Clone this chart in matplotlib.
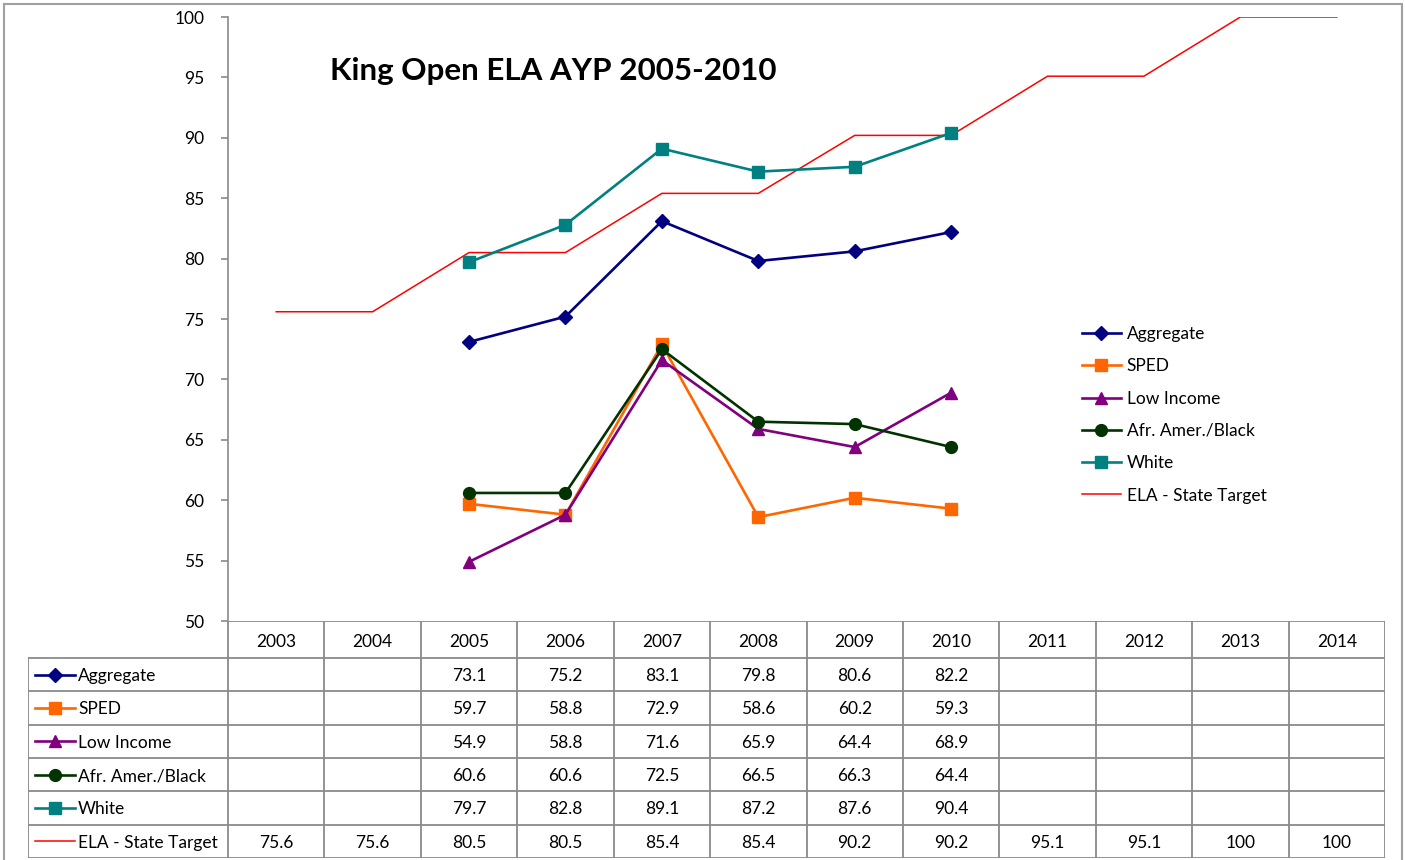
import matplotlib.pyplot as plt
from matplotlib.patches import Rectangle

plt.rcParams["font.family"] = ["Lato", "DejaVu Sans"]

YEARS = ["2003", "2004", "2005", "2006", "2007", "2008", "2009", "2010",
         "2011", "2012", "2013", "2014"]
SERIES_NAMES = ["Aggregate", "SPED", "Low Income", "Afr. Amer./Black", "White",
                "ELA - State Target"]
AGGREGATE = [None, None, 73.1, 75.2, 83.1, 79.8, 80.6, 82.2, None, None, None, None]
SPED = [None, None, 59.7, 58.8, 72.9, 58.6, 60.2, 59.3, None, None, None, None]
LOW_INCOME = [None, None, 54.9, 58.8, 71.6, 65.9, 64.4, 68.9, None, None, None, None]
AFR_AMER = [None, None, 60.6, 60.6, 72.5, 66.5, 66.3, 64.4, None, None, None, None]
WHITE = [None, None, 79.7, 82.8, 89.1, 87.2, 87.6, 90.4, None, None, None, None]
TARGET = [75.6, 75.6, 80.5, 80.5, 85.4, 85.4, 90.2, 90.2, 95.1, 95.1, 100, 100]

STYLES = [
    {"color": "#000080", "marker": "D", "markersize": 7.5, "linewidth": 1.9},
    {"color": "#FF6600", "marker": "s", "markersize": 8.5, "linewidth": 1.9},
    {"color": "#800080", "marker": "^", "markersize": 8.5, "linewidth": 1.9},
    {"color": "#003300", "marker": "o", "markersize": 8.5, "linewidth": 1.9},
    {"color": "#008080", "marker": "s", "markersize": 8.5, "linewidth": 1.9},
    {"color": "#FF0000", "marker": None, "markersize": 0, "linewidth": 1.1},
]
GRAY = "#8a8a8a"

W, H = 1405, 860
fig = plt.figure(figsize=(W / 100, H / 100), dpi=100)

# plot area in pixels
PL, PR, PT, PB = 228, 1385, 17, 621
ax = fig.add_axes([PL / W, 1 - PB / H, (PR - PL) / W, (PB - PT) / H])

all_series = [AGGREGATE, SPED, LOW_INCOME, AFR_AMER, WHITE, TARGET]
x = list(range(len(YEARS)))
handles = []
for name, values, style in zip(SERIES_NAMES, all_series, STYLES):
    xs = [i for i, v in zip(x, values) if v is not None]
    ys = [v for v in values if v is not None]
    z = 2 if name.startswith("ELA") else 3
    (ln,) = ax.plot(xs, ys, label=name, zorder=z, **style)
    handles.append(ln)

ax.set_xlim(-0.5, len(YEARS) - 0.5)
ax.set_ylim(50, 100)
ax.set_yticks(range(50, 101, 5))
ax.set_xticks([])
for side in ["top", "right", "bottom"]:
    ax.spines[side].set_visible(False)
ax.spines["left"].set_color(GRAY)
ax.spines["left"].set_linewidth(1.2)
ax.tick_params(axis="y", direction="out", length=5, width=1.2, color=GRAY,
               labelsize=12.5, pad=12)

ax.text(0.088, 0.911, "King Open ELA AYP 2005-2010", transform=ax.transAxes,
        fontsize=22.6, fontweight="bold", ha="left", va="center")

ax.legend(handles=handles, loc="upper left", bbox_to_anchor=(0.7324, 0.5),
          frameon=False, fontsize=12.5, handlelength=2.2, labelspacing=0.94,
          handletextpad=0.35, borderaxespad=0)

# data table under the plot
TL, TB = 28, 858
col_w = (PR - PL) / len(YEARS)
tab = fig.add_axes([TL / W, 1 - TB / H, (PR - TL) / W, (TB - PB) / H])
tab.set_xlim(-0.5 - (PL - TL) / col_w, len(YEARS) - 0.5)
tab.set_ylim(TB, PB)
tab.axis("off")

header_bottom = 658
row_h = (TB - header_bottom) / len(SERIES_NAMES)
x_left = -0.5 - (PL - TL) / col_w
lc = dict(color=GRAY, linewidth=1.3)

tab.plot([-0.5, len(YEARS) - 0.5], [PB, PB], **lc)
for i in range(len(YEARS) + 1):
    tab.plot([i - 0.5, i - 0.5], [PB, TB], **lc)
tab.plot([x_left, x_left], [header_bottom, TB], **lc)
for r in range(len(SERIES_NAMES) + 1):
    y = header_bottom + r * row_h
    tab.plot([x_left, len(YEARS) - 0.5], [y, y], **lc)

for i, yr in enumerate(YEARS):
    tab.text(i, (PB + header_bottom) / 2 + 2.5, yr, ha="center", va="center",
             fontsize=12.5)

for r, (name, values, style) in enumerate(zip(SERIES_NAMES, all_series, STYLES)):
    yc = header_bottom + (r + 0.5) * row_h
    hx0 = x_left + 7 / col_w
    hx1 = x_left + 47 / col_w
    tab.plot([hx0, (hx0 + hx1) / 2, hx1], [yc, yc, yc], markevery=[1],
             **style)
    tab.text(x_left + 50 / col_w, yc + 1.5, name, ha="left", va="center",
             fontsize=12.5)
    for i, v in enumerate(values):
        if v is not None:
            tab.text(i, yc + 1.5, f"{v:g}", ha="center", va="center",
                     fontsize=12.5)

fig.patches.append(Rectangle((4 / W, -0.01), (1402 - 4) / W, 1 - 4 / H + 0.01,
                             transform=fig.transFigure, fill=False,
                             edgecolor="#a0a0a0", linewidth=1.5))

fig.savefig("out.png", dpi=100)
